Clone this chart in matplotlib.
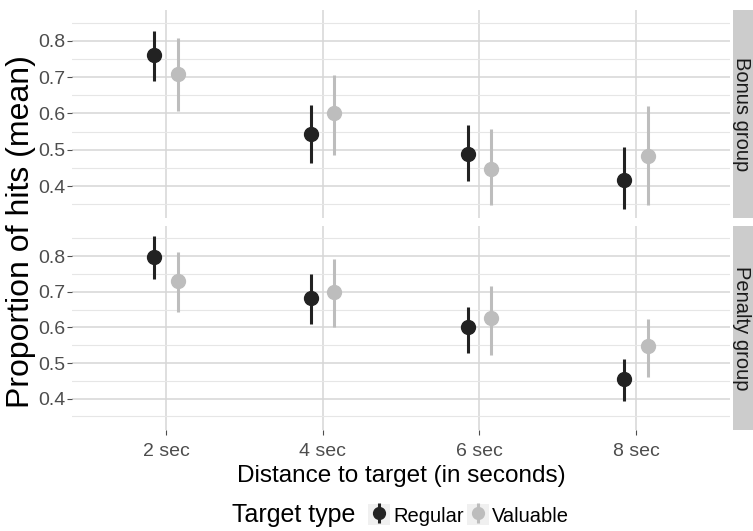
import matplotlib

matplotlib.use("Agg")
import matplotlib.pyplot as plt
from matplotlib.patches import Rectangle
from matplotlib.legend_handler import HandlerTuple
from matplotlib.ticker import MultipleLocator

plt.rcParams["font.family"] = ["Liberation Sans", "DejaVu Sans"]

distances = ["2 sec", "4 sec", "6 sec", "8 sec"]
groups = ["Bonus group", "Penalty group"]
target_types = ["Regular", "Valuable"]

# mean, lower, upper per group / target type
bonus_regular_mean = [0.761, 0.544, 0.488, 0.418]
bonus_regular_lo = [0.690, 0.463, 0.414, 0.336]
bonus_regular_hi = [0.828, 0.622, 0.568, 0.508]
bonus_valuable_mean = [0.708, 0.600, 0.448, 0.484]
bonus_valuable_lo = [0.607, 0.485, 0.349, 0.349]
bonus_valuable_hi = [0.807, 0.705, 0.556, 0.620]

penalty_regular_mean = [0.797, 0.684, 0.600, 0.456]
penalty_regular_lo = [0.735, 0.609, 0.527, 0.393]
penalty_regular_hi = [0.858, 0.750, 0.658, 0.511]
penalty_valuable_mean = [0.731, 0.701, 0.626, 0.549]
penalty_valuable_lo = [0.643, 0.600, 0.524, 0.462]
penalty_valuable_hi = [0.812, 0.793, 0.717, 0.624]

series = {
    "Bonus group": [
        (bonus_regular_mean, bonus_regular_lo, bonus_regular_hi),
        (bonus_valuable_mean, bonus_valuable_lo, bonus_valuable_hi),
    ],
    "Penalty group": [
        (penalty_regular_mean, penalty_regular_lo, penalty_regular_hi),
        (penalty_valuable_mean, penalty_valuable_lo, penalty_valuable_hi),
    ],
}

colors = ["#222222", "#bdbdbd"]
dodge = [-0.075, 0.075]
grid_major = "#d6d6d6"
grid_minor = "#e6e6e6"
tick_col = "#4d4d4d"

W, H = 753, 531
fig = plt.figure(figsize=(W / 100, H / 100), dpi=100)
L, R = 72 / W, 730 / W
panels = [(10, 218), (226, 430)]

handles = []
for i, (group, (top, bot)) in enumerate(zip(groups, panels)):
    ax = fig.add_axes([L, 1 - bot / H, R - L, (bot - top) / H])
    xs = list(range(1, len(distances) + 1))
    for j, (mean, lo, hi) in enumerate(series[group]):
        xd = [x + dodge[j] for x in xs]
        yerr = [[m - l for m, l in zip(mean, lo)], [h - m for m, h in zip(mean, hi)]]
        eb = ax.errorbar(xd, mean, yerr=yerr, fmt="o", color=colors[j], ms=10,
                         elinewidth=2.2, capsize=0, zorder=3)
        if i == 0:
            handles.append(eb)
    ax.set_xlim(0.4, 4.6)
    ax.set_ylim(0.312, 0.885)
    ax.set_xticks(xs)
    ax.yaxis.set_minor_locator(MultipleLocator(0.05))
    ax.set_yticks([0.4, 0.5, 0.6, 0.7, 0.8])
    ax.grid(True, which="major", color=grid_major, lw=1.1, zorder=0)
    ax.grid(True, which="minor", axis="y", color=grid_minor, lw=0.8, zorder=0)
    ax.set_axisbelow(True)
    for s in ax.spines.values():
        s.set_visible(False)
    ax.tick_params(axis="both", which="major", length=3.5, color=tick_col,
                   labelcolor=tick_col, labelsize=14, pad=1.5)
    ax.tick_params(axis="x", pad=5.8)
    ax.tick_params(axis="y", which="minor", length=0)
    if i == 0:
        ax.tick_params(axis="x", length=0, labelbottom=False)
    else:
        ax.set_xticklabels(distances)
        ax.set_xlabel("Distance to target (in seconds)", fontsize=17.5, labelpad=3.5)
    # facet strip
    sax = fig.add_axes([733 / W, 1 - bot / H, 20 / W, (bot - top) / H])
    sax.add_patch(Rectangle((0, 0), 1, 1, color="#cccccc", transform=sax.transAxes))
    sax.text(0.45, 0.5, group, rotation=-90, ha="center", va="center",
             fontsize=14.5, color="#1a1a1a", transform=sax.transAxes)
    sax.set_axis_off()

fig.text(21 / W, 1 - 232 / H, "Proportion of hits (mean)",
         rotation=90, ha="center", va="center", fontsize=23)

fig.text(232 / W, 1 - 515 / H, "Target type", ha="left", va="center", fontsize=18)
key_bg = Rectangle((0, 0), 1, 1, facecolor="#f0f0f0", edgecolor="none")
leg = fig.legend(
    [(key_bg, h) for h in handles], target_types,
    handler_map={tuple: HandlerTuple(ndivide=1)},
    loc="center left", bbox_to_anchor=(358 / W, 1 - 515 / H),
    ncol=2, frameon=False, fontsize=14.5, handlelength=1.1, handleheight=1.2,
    handletextpad=0.15, columnspacing=0.15, borderpad=0, markerscale=0.85,
)

fig.savefig("out.png", dpi=100)
